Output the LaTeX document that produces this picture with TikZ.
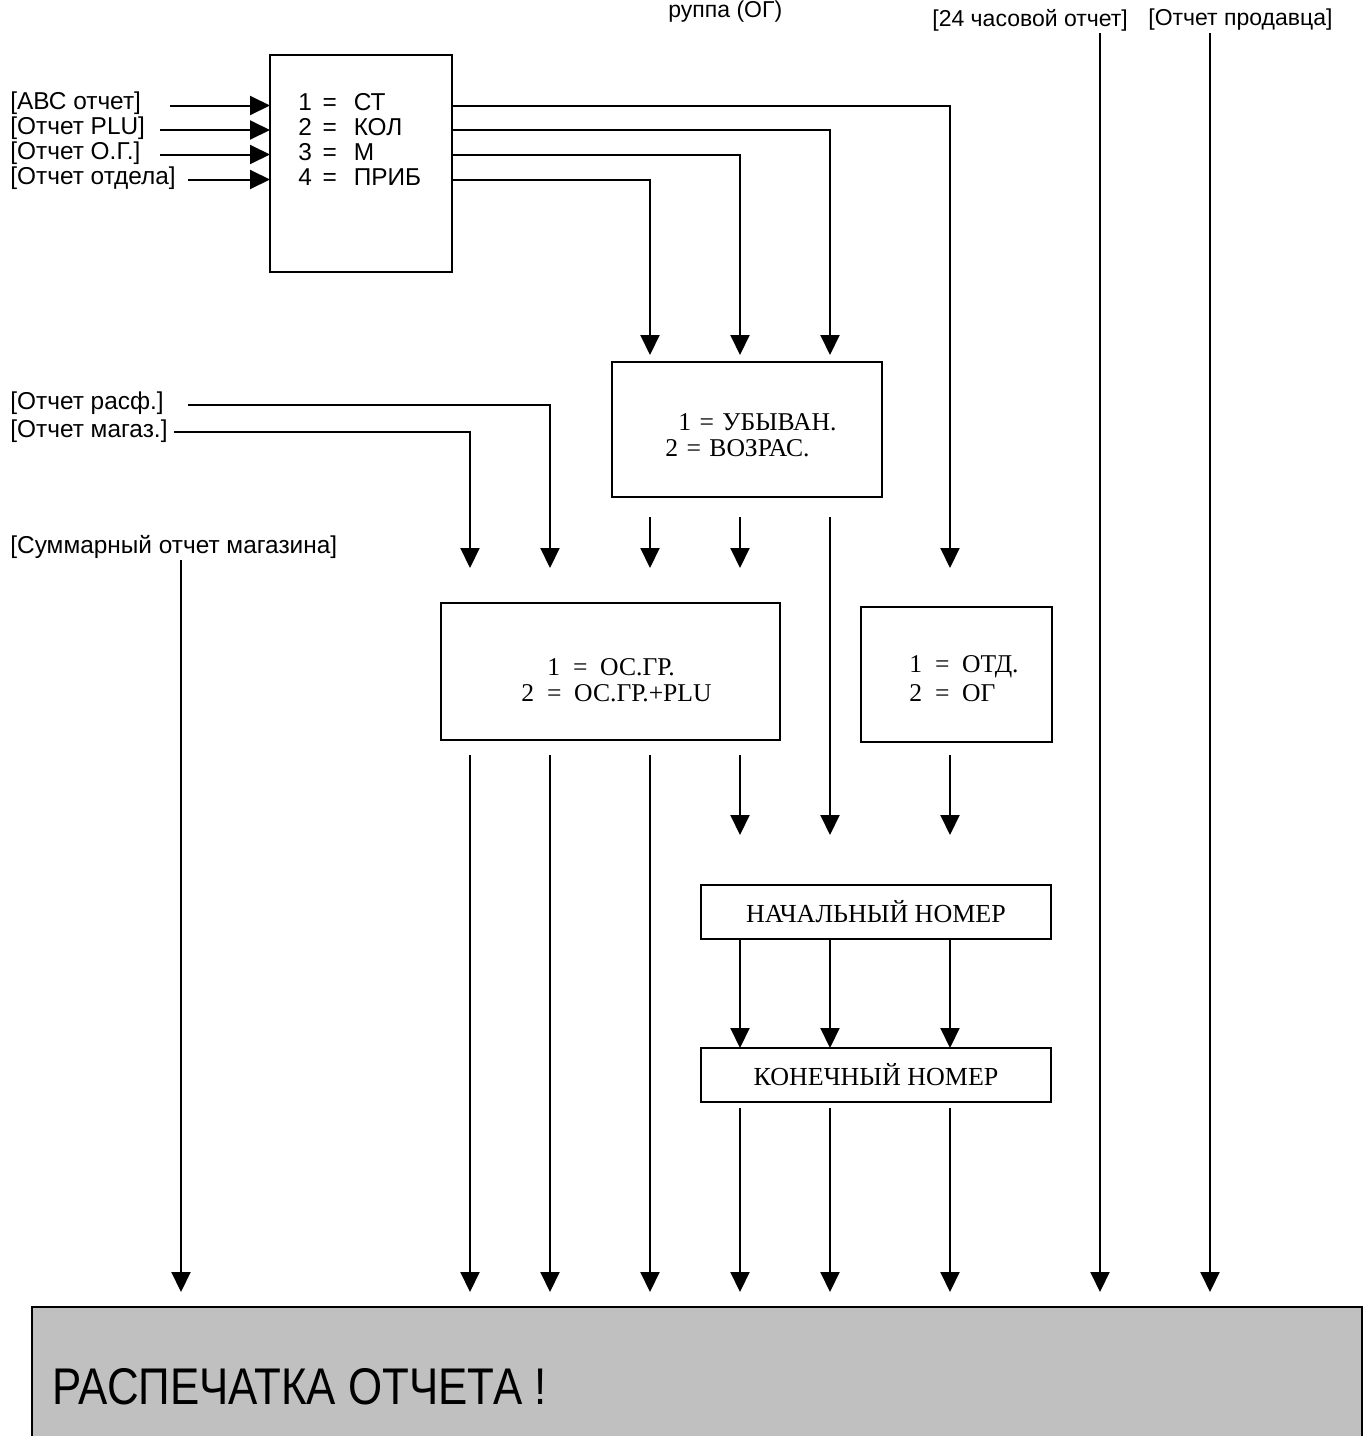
\documentclass[tikz,border=0pt]{standalone}
\usepackage{fontspec}
\setmainfont{Liberation Sans}
\newfontfamily\tms{Liberation Serif}
\usetikzlibrary{arrows.meta}
\definecolor{bggray}{HTML}{C0C0C0}
\begin{document}
\begin{tikzpicture}[x=0.5pt,y=-0.5pt,
  arr/.style={line width=1pt,-{Triangle[length=10pt,width=9.5pt]}},
  box/.style={draw,line width=1pt,inner sep=0pt,outer sep=0pt},
  lab/.style={anchor=west,inner sep=0pt,font=\fontsize{11.5}{13}\selectfont},
  labl/.style={anchor=west,inner sep=0pt,font=\fontsize{12.2}{14}\selectfont},
  tm/.style={anchor=west,inner sep=0pt,font=\tms\fontsize{12.8}{15}\selectfont},
]
\useasboundingbox (0,0) rectangle (1371,1436);

% boxes
\node[box,minimum width=91pt,minimum height=108.5pt] (b1) at (361,163.5) {};
\node[box,minimum width=135pt,minimum height=67.5pt] (b2) at (747,429.5) {};
\node[box,minimum width=169.5pt,minimum height=68.5pt] (b3) at (610.5,671.5) {};
\node[box,minimum width=95.5pt,minimum height=67.5pt] (b4) at (956.5,674.5) {};
\node[box,minimum width=175pt,minimum height=27pt,font=\tms\fontsize{13}{15}\selectfont] (b5) at (876,912) {НАЧАЛЬНЫЙ НОМЕР};
\node[box,minimum width=175pt,minimum height=27pt,font=\tms\fontsize{13}{15}\selectfont] (b6) at (876,1075) {КОНЕЧНЫЙ НОМЕР};
\node[box,fill=bggray,minimum width=665pt,minimum height=69pt] (b7) at (697,1376) {};
\node[anchor=west,inner sep=0pt] (b7t) at (52,1387) {\scalebox{0.85}[1]{\fontsize{25.8}{30}\selectfont РАСПЕЧАТКА ОТЧЕТА !}};

% top labels
\node[anchor=base west,inner sep=0pt,font=\fontsize{11.5}{13}\selectfont] (lgr) at (668,17) {руппа (ОГ)};
\node[lab] (l24) at (932,20) {[24 часовой отчет]};
\node[lab] (lpr) at (1148,20) {[Отчет продавца]};

% left labels
\node[labl] (lA) at (10,103) {[АВС отчет]};
\node[labl] (lB) at (10,128) {[Отчет PLU]};
\node[labl] (lC) at (10,153) {[Отчет О.Г.]};
\node[labl] (lD) at (10,178) {[Отчет отдела]};
\node[labl] (lR) at (10,403) {[Отчет расф.]};
\node[labl] (lM) at (10,431) {[Отчет магаз.]};
\node[labl] (lS) at (10,547) {[Суммарный отчет магазина]};

% box1 texts
\node[labl] (o1) at (298,102) {1\hspace{2pt} =\hspace{5pt} СТ};
\node[labl] (o2) at (298,127) {2\hspace{2pt} =\hspace{5pt} КОЛ};
\node[labl] (o3) at (298,152) {3\hspace{2pt} =\hspace{5pt} М};
\node[labl] (o4) at (298,177) {4\hspace{2pt} =\hspace{5pt} ПРИБ};

% box2 texts
\node[tm] (s1) at (678,422) {1\hspace{1pt} =\hspace{1pt} УБЫВАН.};
\node[tm] (s2) at (665,448) {2\hspace{1pt} =\hspace{1pt} ВОЗРАС.};
% box3 texts
\node[tm] (g1) at (547,667) {1~~=~~ОС.ГР.};
\node[tm] (g2) at (521,693) {2~~=~~ОС.ГР.+PLU};
% box4 texts
\node[tm] (d1) at (909,667) {1~~=~~ОТД.};
\node[tm] (d2) at (909,693) {2~~=~~ОГ};

% coordinates
\coordinate (r1) at (0,105.5);
\coordinate (r2) at (0,130);
\coordinate (r3) at (0,154.5);
\coordinate (r4) at (0,179.5);
\coordinate (sA) at (170,105.5);
\coordinate (sB) at (160,130);
\coordinate (sC) at (160,154.5);
\coordinate (sD) at (188,179.5);
\coordinate (sR) at (188,405);
\coordinate (sM) at (174,432);
\coordinate (sS) at (181,560);
\coordinate (sG) at (1100,33);
\coordinate (sH) at (1210,33);
% tips above box2
\coordinate (u1) at (650,355);
\coordinate (u2) at (740,355);
\coordinate (u3) at (830,355);
% tips above box3 / box4
\coordinate (v1) at (470,568);
\coordinate (v2) at (550,568);
\coordinate (v3) at (650,568);
\coordinate (v4) at (740,568);
\coordinate (v5) at (950,568);
% tips above box5
\coordinate (w1) at (740,835);
\coordinate (w2) at (830,835);
\coordinate (w3) at (950,835);
% tips above box7
\coordinate (z0) at (181,1292);
\coordinate (z1) at (470,1292);
\coordinate (z2) at (550,1292);
\coordinate (z3) at (650,1292);
\coordinate (z4) at (740,1292);
\coordinate (z5) at (830,1292);
\coordinate (z6) at (950,1292);
\coordinate (z7) at (1100,1292);
\coordinate (z8) at (1210,1292);

% inputs to box1
\draw[arr] (sA) -- (sA -| b1.west);
\draw[arr] (sB) -- (sB -| b1.west);
\draw[arr] (sC) -- (sC -| b1.west);
\draw[arr] (sD) -- (sD -| b1.west);

% outputs of box1
\draw[arr] (b1.east |- r1) -| (v5);
\draw[arr] (b1.east |- r2) -| (u3);
\draw[arr] (b1.east |- r3) -| (u2);
\draw[arr] (b1.east |- r4) -| (u1);

% box2 outputs
\draw[arr,shorten <=10pt] (b2.south -| v3) -- (v3);
\draw[arr,shorten <=10pt] (b2.south -| v4) -- (v4);
\draw[arr,shorten <=10pt] (b2.south -| w2) -- (w2);

% side inputs
\draw[arr] (sR) -| (v2);
\draw[arr] (sM) -| (v1);
\draw[arr] (sS) -- (z0);
\draw[arr] (sG) -- (z7);
\draw[arr] (sH) -- (z8);

% box3 outputs
\draw[arr,shorten <=7.5pt] (b3.south -| z1) -- (z1);
\draw[arr,shorten <=7.5pt] (b3.south -| z2) -- (z2);
\draw[arr,shorten <=7.5pt] (b3.south -| z3) -- (z3);
\draw[arr,shorten <=7.5pt] (b3.south -| w1) -- (w1);

% box4 output
\draw[arr,shorten <=6.5pt] (b4.south -| w3) -- (w3);

% box5 to box6
\draw[arr] (b5.south -| w1) -- (b6.north -| w1);
\draw[arr] (b5.south -| w2) -- (b6.north -| w2);
\draw[arr] (b5.south -| w3) -- (b6.north -| w3);

% box6 outputs
\draw[arr,shorten <=3pt] (b6.south -| z4) -- (z4);
\draw[arr,shorten <=3pt] (b6.south -| z5) -- (z5);
\draw[arr,shorten <=3pt] (b6.south -| z6) -- (z6);
\end{tikzpicture}
\end{document}
